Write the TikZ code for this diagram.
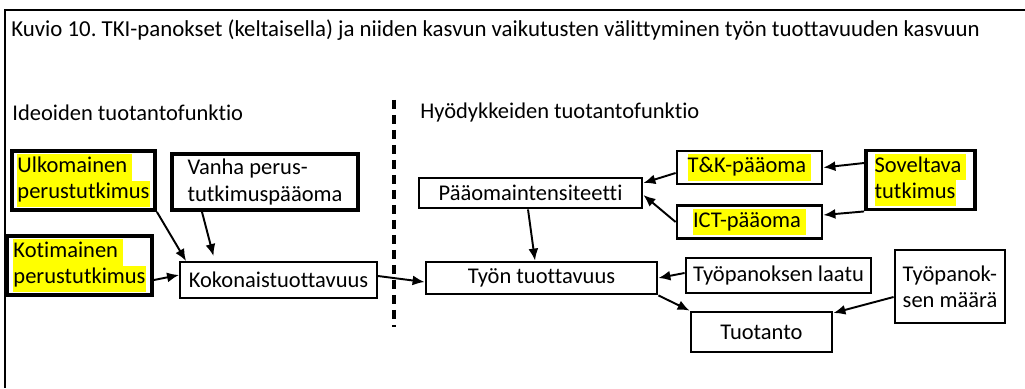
\documentclass[tikz,border=0pt]{standalone}
\usepackage{fontspec}
\setmainfont{Carlito}[Ligatures=NoCommon]
\usetikzlibrary{arrows.meta}
\usepackage{xcolor}
\frenchspacing
\definecolor{hlyellow}{RGB}{255,255,0}
\newcommand{\hl}[1]{{\setlength{\fboxsep}{0pt}\colorbox{hlyellow}{\strut #1}}}

\tikzset{
  box/.style={draw, line width=1.6pt, fill=white, inner sep=2pt, font=\fontsize{12.8}{14.8}\selectfont},
  heavy/.style={box, line width=2.2pt},
  arr/.style={-{Latex[length=0.24cm,width=0.2cm]}, line width=1.1pt},
  lbl/.style={anchor=west, inner sep=0pt, font=\fontsize{12.8}{14.8}\selectfont}
}

\begin{document}
\begin{tikzpicture}

  \useasboundingbox (0,0) rectangle (20.5,7.76);
  % frame and headings
  \draw[line width=1.1pt] (20.5,7.56) -- (0.1,7.56) -- (0.1,0);
  \node[lbl, font=\fontsize{13}{15}\selectfont] (title) at (0.22,7.16) {Kuvio 10. TKI-panokset (keltaisella) ja niiden kasvun vaikutusten välittyminen työn tuottavuuden kasvuun};
  \node[lbl] (ideat) at (0.24,5.5) {Ideoiden tuotantofunktio};
  \node[lbl] (hyod) at (8.4,5.5) {Hyödykkeiden tuotantofunktio};
  \draw[line width=2.3pt, dash pattern=on 0.18cm off 0.12cm] (7.88,5.76) -- (7.88,1.22);

  % ideas side
  \node (ulk) at (1.67,4.15) [heavy, minimum width=2.86cm, minimum height=1.14cm, align=left] {\hl{Ulkomainen }\\\hl{perustutkimus}};
  \node (vanha) at (5.30,4.12) [heavy, minimum width=3.72cm, minimum height=1.12cm, align=left] {Vanha perus-\\tutkimuspääoma};
  \node (kot) at (1.59,2.45) [heavy, minimum width=2.90cm, minimum height=1.18cm, align=left] {\hl{Kotimainen }\\\hl{perustutkimus}};
  \node (kok) at (5.57,2.16) [box, line width=1.1pt, minimum width=3.94cm, minimum height=0.72cm] {Kokonaistuottavuus};

  % goods side
  \node (tyon) at (10.83,2.20) [box, minimum width=4.62cm, minimum height=0.64cm] {Työn tuottavuus};
  \node (paa) at (10.61,3.90) [box, minimum width=4.46cm, minimum height=0.60cm] {Pääomaintensiteetti};
  \node (tk) at (14.99,4.41) [box, minimum width=2.90cm, minimum height=0.62cm] {\hl{T\&K-pääoma }};
  \node (ict) at (14.99,3.32) [box, minimum width=2.90cm, minimum height=0.60cm] {\hl{ICT-pääoma }};
  \node (sov) at (18.41,4.16) [heavy, minimum width=2.18cm, minimum height=1.12cm, align=left] {\hl{Soveltava }\\\hl{tutkimus}};
  \node (laatu) at (15.57,2.25) [box, minimum width=3.70cm, minimum height=0.70cm] {Työpanoksen laatu};
  \node (maara) at (19.00,2.03) [box, minimum width=2.20cm, minimum height=1.46cm, align=left] {Työpanok-\\sen määrä};
  \node (tuot) at (15.23,1.12) [box, minimum width=2.82cm, minimum height=0.80cm] {Tuotanto};

  % arrows
  \draw[arr] (ulk.south east) -- ([xshift=0.14cm]kok.north west);
  \draw[arr] ([xshift=-1.26cm]vanha.south) -- ([xshift=-1.3cm,yshift=0.1cm]kok.north);
  \draw[arr] ([yshift=-0.29cm]kot.east) -- ([yshift=0.1cm]kok.west);
  \draw[arr] ([yshift=0.08cm]kok.east) -- ([yshift=-0.08cm]tyon.west);
  \draw[arr] ([xshift=-0.05cm]paa.south) -- ([xshift=-0.13cm]tyon.north);
  \draw[arr] ([yshift=-0.11cm]tk.west) -- ([yshift=0.2cm]paa.east);
  \draw[arr] (ict.west) -- ([yshift=-0.04cm]paa.east);
  \draw[arr] ([yshift=0.34cm]sov.west) -- (tk.east);
  \draw[arr] (sov.south west) -- ([yshift=0.14cm]ict.east);
  \draw[arr] ([yshift=0.05cm]laatu.west) -- (tyon.east);
  \draw[arr] (tyon.south east) -- (tuot.north west);
  \draw[arr] ([yshift=-0.21cm]maara.west) -- ([yshift=0.38cm]tuot.east);

\end{tikzpicture}
\end{document}
